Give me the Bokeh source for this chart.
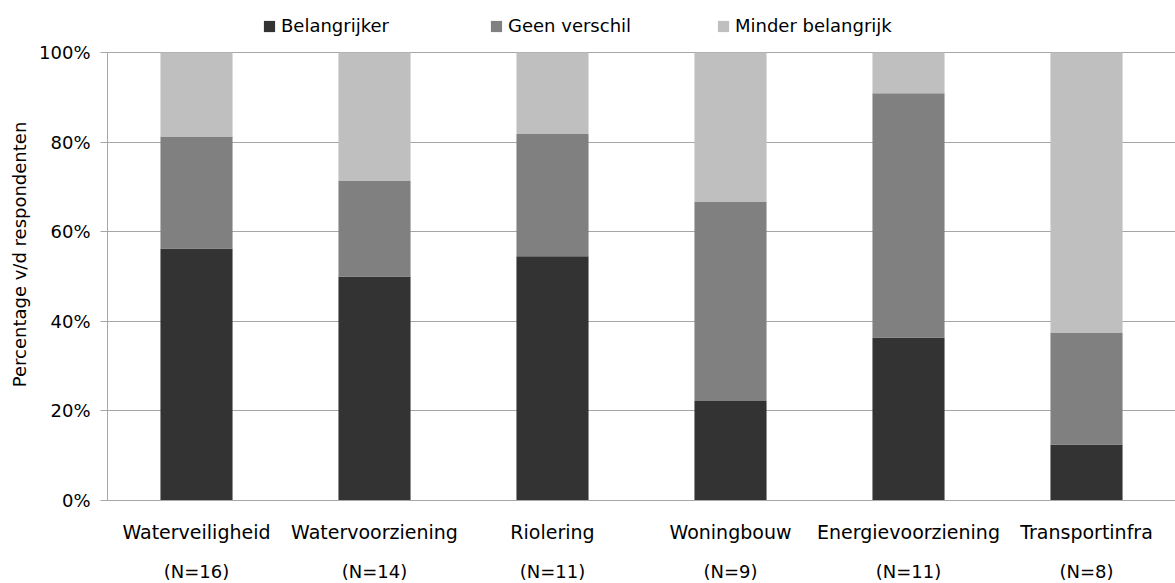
from bokeh.plotting import figure
from bokeh.models import (CategoricalAxis, NumeralTickFormatter, Legend, FixedTicker,
                          Range1d, ColumnDataSource, FactorRange, CustomJSTickFormatter)
from bokeh.embed import file_html
from bokeh.resources import INLINE

categories = ["Waterveiligheid", "Watervoorziening", "Riolering",
              "Woningbouw", "Energievoorziening", "Transportinfra"]
n_labels = ["(N=16)", "(N=14)", "(N=11)", "(N=9)", "(N=11)", "(N=8)"]
series = ["Belangrijker", "Geen verschil", "Minder belangrijk"]
belangrijker = [0.5625, 0.500, 0.545, 0.222, 0.364, 0.125]
geen_verschil = [0.250, 0.214, 0.273, 0.444, 0.545, 0.250]
minder_belangrijk = [0.1875, 0.286, 0.182, 0.334, 0.091, 0.625]
y_ticks = [0, 0.2, 0.4, 0.6, 0.8, 1.0]
colors = ["#333333", "#808080", "#bfbfbf"]

FONT = "DejaVu Sans"
GRID = "#a6a6a6"

source = ColumnDataSource(dict(cat=categories, Belangrijker=belangrijker,
                               **{"Geen verschil": geen_verschil,
                                  "Minder belangrijk": minder_belangrijk}))

p = figure(x_range=FactorRange(*categories), y_range=Range1d(0, 1.098),
           frame_width=1068, frame_height=492,
           output_backend="svg", toolbar_location=None,
           min_border_left=107, min_border_right=0, min_border_top=8,
           min_border_bottom=0)
p.outline_line_color = None
p.background_fill_color = "white"

renderers = p.vbar_stack(series, x="cat", width=0.405, color=colors,
                         line_color=None, source=source)

# y axis
p.yaxis.ticker = FixedTicker(ticks=y_ticks)
p.yaxis.bounds = (0, 1)
p.yaxis.formatter = NumeralTickFormatter(format="0%")
p.yaxis.axis_line_color = GRID
p.yaxis.major_tick_line_color = GRID
p.yaxis.major_tick_out = 7
p.yaxis.major_tick_in = 0
p.yaxis.minor_tick_line_color = None
p.yaxis.major_label_standoff = 10
p.yaxis.major_label_text_font = FONT
p.yaxis.major_label_text_font_size = "18px"
p.yaxis.major_label_text_color = "black"
p.yaxis.axis_label = "Percentage v/d respondenten"
p.yaxis.axis_label_text_font = FONT
p.yaxis.axis_label_text_font_size = "18px"
p.yaxis.axis_label_text_font_style = "normal"
p.yaxis.axis_label_text_color = "black"
p.yaxis.axis_label_standoff = 6

p.ygrid.grid_line_color = GRID
p.ygrid.ticker = FixedTicker(ticks=y_ticks)
p.xgrid.grid_line_color = None

# x axis (category names)
p.xaxis.axis_line_color = GRID
p.xaxis.major_tick_line_color = None
p.xaxis.major_tick_out = 0
p.xaxis.major_tick_in = 0
p.xaxis.minor_tick_line_color = None
p.xaxis.major_label_standoff = 20
p.xaxis.major_label_text_font = FONT
p.xaxis.major_label_text_font_size = "19px"
p.xaxis.major_label_text_color = "black"

# second x axis with N labels
ax2 = CategoricalAxis(formatter=CustomJSTickFormatter(
    args=dict(labels=dict(zip(categories, n_labels))),
    code="return labels.get ? labels.get(tick) : labels[tick];"))
ax2.axis_line_color = None
ax2.major_tick_line_color = None
ax2.major_tick_out = 0
ax2.major_tick_in = 0
ax2.minor_tick_line_color = None
ax2.major_label_standoff = 15
ax2.major_label_text_font = FONT
ax2.major_label_text_font_size = "18px"
ax2.major_label_text_color = "black"
p.add_layout(ax2, "below")

legend = Legend(items=[(s, [r]) for s, r in zip(series, renderers)],
                orientation="horizontal", location=(155, 464))
legend.border_line_color = None
legend.background_fill_alpha = 0
legend.glyph_width = 14
legend.glyph_height = 14
legend.label_standoff = 5
legend.label_width = 125
legend.spacing = 83
legend.label_text_font = FONT
legend.label_text_font_size = "18px"
legend.label_text_color = "black"
legend.padding = 4
legend.margin = 0
p.add_layout(legend, "center")

open("out.html", "w").write(file_html(p, INLINE))
